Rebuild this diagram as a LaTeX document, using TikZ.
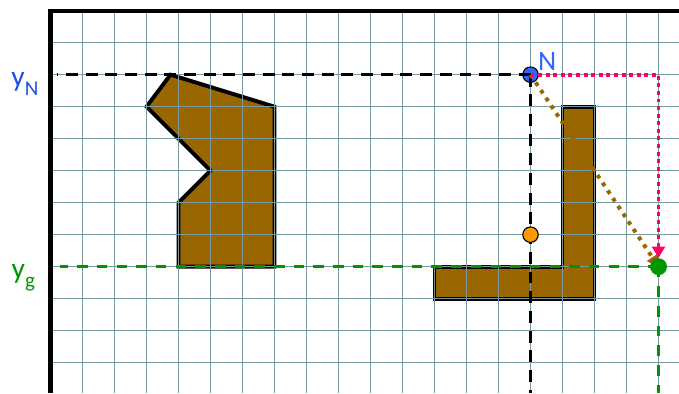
\documentclass[tikz,border=0pt]{standalone}
\definecolor{gridgray}{RGB}{122, 154, 162}
\definecolor{wallbrown}{RGB}{153, 102, 0}
\definecolor{nodeblue}{RGB}{51, 102, 255}
\definecolor{labelblue}{RGB}{30, 80, 230}
\definecolor{goalgreen}{RGB}{0, 150, 0}
\definecolor{pathpink}{RGB}{255, 0, 102}
\definecolor{midorange}{RGB}{255, 153, 0}
\usepackage{fontspec}
\setmainfont{Carlito}
\usepackage{tikz}
\usetikzlibrary{arrows.meta}

\begin{document}
\begin{tikzpicture}[x=0.8cm, y=-0.8cm,
    obstacle/.style={fill=wallbrown, draw=black, line width=2.8pt},
    gridline/.style={draw=gridgray, line width=0.9pt},
    projblack/.style={draw=black, line width=2.3pt, dash pattern=on 8.5pt off 5.5pt},
    projgreen/.style={draw=goalgreen, line width=2.3pt, dash pattern=on 7.5pt off 6.5pt},
    pinkpath/.style={draw=pathpink, line width=2.8pt, dash pattern=on 2.8pt off 2.6pt},
    brownpath/.style={draw=wallbrown, line width=2.8pt, dash pattern=on 2.8pt off 3.8pt},
    pointnode/.style={circle, inner sep=0pt, minimum size=11pt}]
  \useasboundingbox (-1.578, -0.334) rectangle (19.64, 11.95);

  % obstacles (grid is drawn over them)
  \path[obstacle] (3.75, 2) -- (3, 3) -- (5, 5) -- (4, 6) -- (4, 8) -- (7, 8) -- (7, 3) -- cycle;
  \path[obstacle] (16, 3) -- (17, 3) -- (17, 9) -- (12, 9) -- (12, 8) -- (16, 8) -- cycle;

  % grid
  \foreach \i in {1, ..., 19}
    \draw[gridline] (\i, 0) -- (\i, 11.95);
  \foreach \j in {1, ..., 11}
    \draw[gridline] (0, \j) -- (19.64, \j);

  % frame
  \draw[line width=3pt] (0, 11.95) -- (0, 0) -- (19.64, 0);

  % points
  \coordinate (Npos) at (15, 2);
  \coordinate (gpos) at (19, 8);
  \coordinate (yNleft) at (0.2, 2);
  \coordinate (Nbottom) at (15, 11.95);
  \coordinate (ygleft) at (0.3, 8);
  \coordinate (gbottom) at (19, 11.95);
  \node[pointnode, fill=nodeblue, draw=black, line width=0.8pt] (N) at (Npos) {};

  % projections
  \draw[projblack] (N.center) -- (yNleft);
  \draw[projblack] (N.center) -- (Nbottom);
  \draw[projgreen] (gpos) -- (ygleft);
  \draw[projgreen] (gpos) -- (gbottom);

  % paths to the goal
  \draw[brownpath, -{Triangle[length=8pt, width=9pt]}] (N.center) -- (gpos);
  \node[pointnode, fill=goalgreen, minimum size=12pt] (g) at (gpos) {};
  \draw[pinkpath, -{Triangle[length=8pt, width=9pt]}] (N.center) -| (g);

  \node[pointnode, fill=midorange, draw=black, line width=0.8pt] (mid) at (15, 7) {};

  % labels
  \node[font=\fontsize{20}{22}\selectfont, text=nodeblue] (Nlab) at (15.52, 1.6) {N};
  \node[font=\fontsize{21}{24}\selectfont, text=labelblue, anchor=base] (yN) at (-0.8, 2.36)
    {y\raisebox{-6.5pt}{\fontsize{15}{16}\selectfont N}};
  \node[font=\fontsize{21}{24}\selectfont, text=goalgreen, anchor=base] (yg) at (-0.85, 8.36)
    {y\raisebox{-6.5pt}{\fontsize{15}{16}\selectfont g}};
\end{tikzpicture}
\end{document}
